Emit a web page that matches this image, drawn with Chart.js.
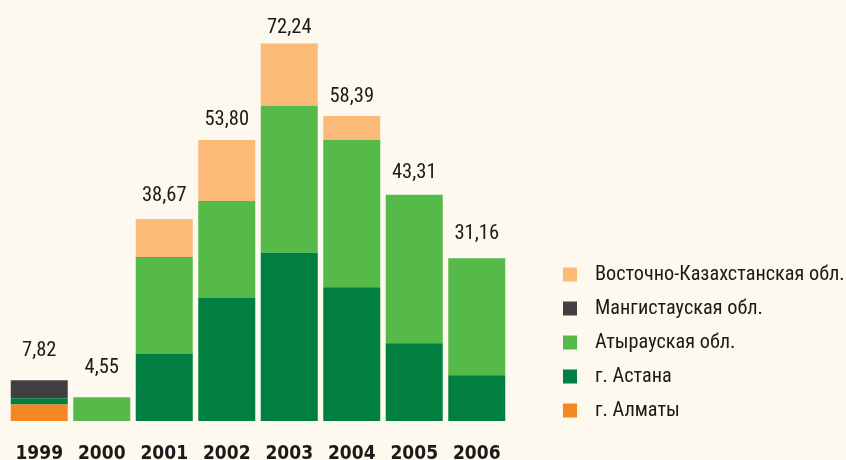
<!DOCTYPE html>
<html>
<head>
<meta charset="utf-8">
<script src="https://cdn.jsdelivr.net/npm/chart.js@4.4.1/dist/chart.umd.min.js"></script>
<style>
html,body{margin:0;padding:0;background:#FEF9EE;}
canvas{display:block;}
</style>
</head>
<body>
<canvas id="c" width="846" height="460"></canvas>
<script>
const years = ['1999','2000','2001','2002','2003','2004','2005','2006'];
const almaty      = [3.17, 0, 0, 0, 0, 0, 0, 0];
const astana      = [1.20, 0, 12.90, 23.55, 32.18, 25.60, 14.88, 8.75];
const atyrau      = [0, 4.55, 18.50, 18.57, 28.16, 28.16, 28.43, 22.41];
const mangistau   = [3.45, 0, 0, 0, 0, 0, 0, 0];
const vostochno   = [0, 0, 7.27, 11.68, 11.90, 4.63, 0, 0];
const totals      = [7.82, 4.55, 38.67, 53.80, 72.24, 58.39, 43.31, 31.16];

const NARROW = '"Roboto Condensed", "DejaVu Sans Condensed", sans-serif';

const bgPlugin = {
  id: 'bg',
  beforeDraw(chart) {
    const ctx = chart.ctx;
    ctx.save();
    ctx.fillStyle = '#FEF9EE';
    ctx.fillRect(0, 0, chart.width, chart.height);
    ctx.restore();
  }
};

const totalsPlugin = {
  id: 'totals',
  afterDatasetsDraw(chart) {
    const ctx = chart.ctx;
    const xs = chart.scales.x, ys = chart.scales.y;
    ctx.save();
    ctx.font = '20.5px ' + NARROW;
    ctx.fillStyle = '#1a1a1a';
    ctx.textAlign = 'center';
    ctx.textBaseline = 'alphabetic';
    totals.forEach((t, i) => {
      const x = xs.getPixelForValue(i);
      const y = ys.getPixelForValue(t * 0.9605) - 25.5;
      ctx.fillText(t.toFixed(2).replace('.', ','), x, y);
    });
    ctx.restore();
  }
};

const legendPlugin = {
  id: 'customLegend',
  afterDraw(chart) {
    const ctx = chart.ctx;
    const ds = chart.data.datasets.slice().reverse();
    ctx.save();
    ctx.font = '20.3px ' + NARROW;
    ctx.textAlign = 'left';
    ctx.textBaseline = 'middle';
    ds.forEach((d, i) => {
      const cy = 274.5 + i * 34;
      ctx.fillStyle = d.backgroundColor;
      ctx.fillRect(563, cy - 7, 14, 14);
      ctx.fillStyle = '#1a1a1a';
      ctx.fillText(d.label, 595, cy);
    });
    ctx.restore();
  }
};

new Chart(document.getElementById('c'), {
  type: 'bar',
  data: {
    labels: years,
    datasets: [
      { label: 'г. Алматы', data: almaty, backgroundColor: '#F58722' },
      { label: 'г. Астана', data: astana, backgroundColor: '#017F41' },
      { label: 'Атырауская обл.', data: atyrau, backgroundColor: '#55BA4A' },
      { label: 'Мангистауская обл.', data: mangistau, backgroundColor: '#404042' },
      { label: 'Восточно-Казахстанская обл.', data: vostochno, backgroundColor: '#FBBA78' }
    ]
  },
  options: {
    responsive: false,
    devicePixelRatio: 1,
    animation: false,
    layout: { padding: { left: 8, right: 338, top: 3, bottom: 0 } },
    datasets: { bar: { barPercentage: 0.912, categoryPercentage: 1, borderWidth: 0 } },
    plugins: { legend: { display: false }, tooltip: { enabled: false } },
    scales: {
      x: {
        stacked: true,
        grid: { display: false, drawTicks: false },
        border: { display: false },
        afterFit(scale) { scale.height = 39; scale.paddingLeft = 0; scale.paddingRight = 0; },
        ticks: {
          color: '#1a1a1a',
          padding: 24,
          maxRotation: 0,
          font: { family: '"DejaVu Sans Condensed", "DejaVu Sans", sans-serif', weight: 'bold', size: 19, lineHeight: 1 }
        }
      },
      y: {
        stacked: true,
        display: false,
        min: 0,
        max: 80
      }
    }
  },
  plugins: [bgPlugin, totalsPlugin, legendPlugin]
});
</script>
</body>
</html>
